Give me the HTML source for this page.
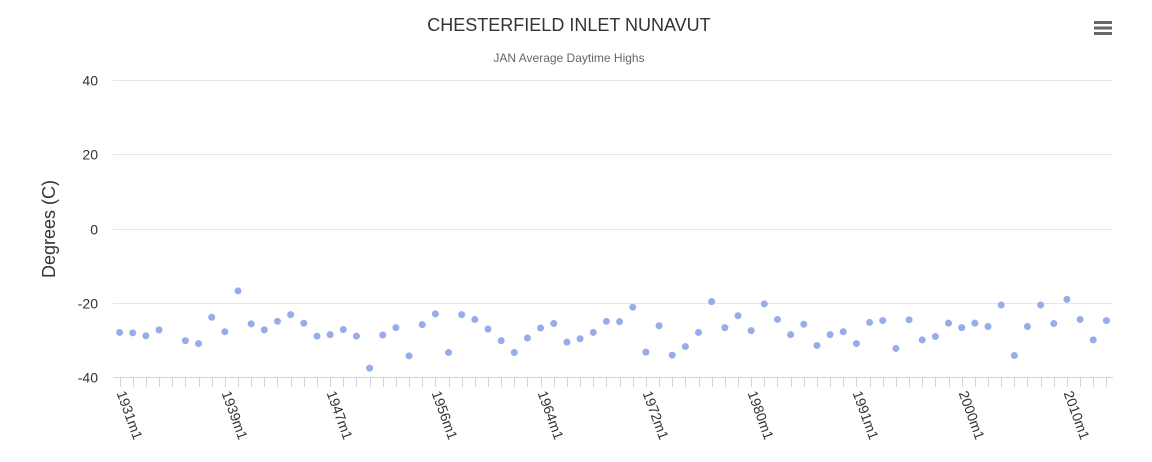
<!DOCTYPE html>
<html><head><meta charset="utf-8"><style>
body{margin:0;background:#fff;}
svg{font-family:"Liberation Sans",sans-serif;display:block;}
</style></head><body>
<svg id="chart" width="1152" height="462">
<text x="569" y="31" text-anchor="middle" font-size="18" fill="#333">CHESTERFIELD INLET NUNAVUT</text>
<text x="569" y="62" text-anchor="middle" font-size="12" fill="#666">JAN Average Daytime Highs</text>
<g>
<rect x="1094" y="21" width="18" height="3" fill="#666"/><rect x="1094" y="26.5" width="18" height="3" fill="#666"/><rect x="1094" y="32" width="18" height="3" fill="#666"/>
</g>
<text transform="translate(55,229) rotate(-90)" text-anchor="middle" font-size="18" fill="#333">Degrees (C)</text>
<g id="grid"></g><g id="xaxis"></g><g id="pts"></g>
</svg>
<script>
const categories=["1931m1","1932m1","1933m1","1934m1","1935m1","1936m1","1937m1","1938m1",
"1939m1","1940m1","1941m1","1942m1","1943m1","1944m1","1945m1","1946m1",
"1947m1","1948m1","1949m1","1950m1","1951m1","1952m1","1953m1","1955m1",
"1956m1","1957m1","1958m1","1959m1","1960m1","1961m1","1962m1","1963m1",
"1964m1","1965m1","1966m1","1967m1","1968m1","1969m1","1970m1","1971m1",
"1972m1","1973m1","1974m1","1975m1","1976m1","1977m1","1978m1","1979m1",
"1980m1","1981m1","1982m1","1984m1","1986m1","1987m1","1988m1","1990m1",
"1991m1","1992m1","1993m1","1994m1","1995m1","1996m1","1998m1","1999m1",
"2000m1","2001m1","2002m1","2004m1","2005m1","2006m1","2007m1","2009m1",
"2010m1","2011m1","2012m1","2013m1"];
const values=[-28.0,-28.1,-28.9,-27.3,null,-30.2,-31.0,-23.9,-27.8,-16.8,-25.7,-27.3,-25.0,-23.2,-25.5,-29.0,
-28.6,-27.2,-29.0,-37.6,-28.7,-26.7,-34.3,-25.9,-23.0,-33.4,-23.2,-24.5,-27.1,-30.2,-33.4,-29.5,
-26.8,-25.6,-30.6,-29.7,-28.0,-25.0,-25.1,-21.2,-33.3,-26.2,-34.1,-31.8,-28.0,-19.7,-26.7,-23.5,
-27.5,-20.3,-24.5,-28.6,-25.8,-31.5,-28.6,-27.8,-31.0,-25.3,-24.8,-32.3,-24.6,-30.0,-29.1,-25.5,
-26.7,-25.5,-26.4,-20.6,-34.2,-26.4,-20.6,-25.6,-19.1,-24.5,-30.0,-24.8];
const yTicks=[40,20,0,-20,-40];
const NS="http://www.w3.org/2000/svg";
const L=113,R=1113,T=80,B=377,ymin=-40,ymax=40;
const cw=(R-L)/categories.length;
const xs=i=>L+(i+0.5)*cw;
const ys=v=>B-(v-ymin)/(ymax-ymin)*(B-T);
function mk(t,a,p){const e=document.createElementNS(NS,t);for(const k in a)e.setAttribute(k,a[k]);p.appendChild(e);return e;}
const grid=document.getElementById('grid');
yTicks.forEach(v=>{
  const y=Math.round(ys(v))+0.5;
  if(v!==ymin){const l=mk('line',{x1:L,x2:R,y1:y,y2:y,stroke:'#e6e6e6'},grid);
  
  }
  const t=mk('text',{x:98,y:y+5,'text-anchor':'end','font-size':14,fill:'#333'},grid);
  
  
  t.textContent=v;
});
const xa=document.getElementById('xaxis');
const al=mk('line',{x1:L,x2:R,y1:B+0.5,y2:B+0.5,stroke:'#ccd6eb'},xa);


categories.forEach((c,i)=>{
  const x=Math.round(xs(i))+0.5;
  const tk=mk('line',{x1:x,x2:x,y1:B,y2:B+10,stroke:'#ccd6eb'},xa);
  
  
  if(i%8===0){
    const t=mk('text',{x:x-4,y:B+16,'font-size':14,fill:'#333',transform:`rotate(70 ${x-4} ${B+16})`},xa);
    
    
    t.textContent=c;
  }
});
const pts=document.getElementById('pts');
values.forEach((v,i)=>{
  if(v===null)return;
  const p=mk('circle',{cx:xs(i),cy:ys(v),r:3.5,fill:'#97ace9'},pts);
  
  
});
</script>
</body></html>
